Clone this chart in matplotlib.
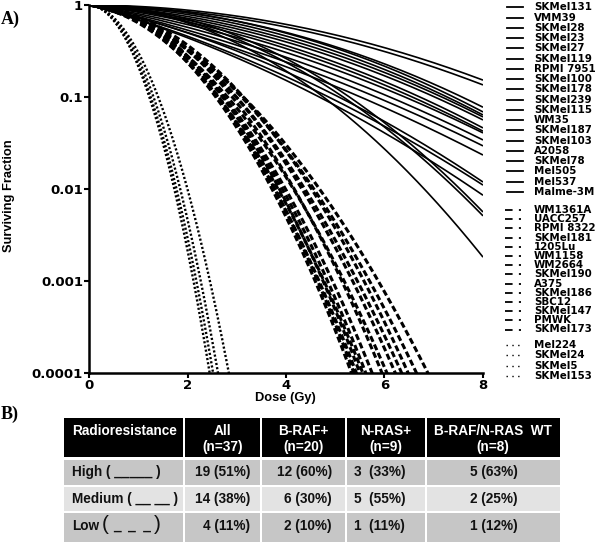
import numpy as np
import matplotlib
matplotlib.use("Agg")
import matplotlib.pyplot as plt
from matplotlib.patches import Rectangle

# ---------------- data ----------------
# Linear-quadratic parameters (alpha [Gy^-1], beta [Gy^-2])
high_lines = ["SKMel131", "VMM39", "SKMel28", "SKMel23", "SKMel27", "SKMel119",
              "RPMI 7951", "SKMel100", "SKMel178", "SKMel239", "SKMel115", "WM35",
              "SKMel187", "SKMel103", "A2058", "SKMel78", "Mel505", "Mel537", "Malme-3M"]
high_alpha = [0.007, 0.026, 0.023, 0.017, 0.044, 0.075, 0.102, 0.123, 0.150, 0.193,
              0.231, 0.272, 0.303, 0.281, 0.333, 0.348, 0.022, 0.058, 0.036]
high_beta = [0.0285, 0.0280, 0.0371, 0.0397, 0.0375, 0.0344, 0.0322, 0.0327, 0.0306,
             0.0259, 0.0239, 0.0211, 0.0208, 0.0341, 0.0288, 0.0309, 0.0782, 0.0752, 0.0941]

medium_lines = ["WM1361A", "UACC257", "RPMI 8322", "SKMel181", "1205Lu", "WM1158",
                "WM2664", "SKMel190", "A375", "SKMel186", "SBC12", "SKMel147",
                "PMWK", "SKMel173"]
medium_alpha = [0.115, 0.069, 0.138, 0.046, 0.184, 0.092, 0.138, 0.069, 0.207, 0.115,
                0.161, 0.092, 0.184, 0.230]
medium_beta = [0.3026, 0.3054, 0.2870, 0.2961, 0.2648, 0.2752, 0.2546, 0.2486, 0.2174,
               0.2196, 0.2031, 0.2051, 0.1806, 0.1611]

low_lines = ["Mel224", "SKMel24", "SKMel5", "SKMel153"]
low_alpha = [0.0, 0.046, 0.0, 0.069]
low_beta = [1.534, 1.432, 1.342, 1.118]

x_ticks = [0, 2, 4, 6, 8]
y_ticks = [0.0001, 0.001, 0.01, 0.1, 1]
y_tick_labels = ["0.0001", "0.001", "0.01", "0.1", "1"]

table_header = ["Radioresistance", "All\n(n=37)", "B-RAF+\n(n=20)", "N-RAS+\n(n=9)",
                "B-RAF/N-RAS  WT\n(n=8)"]
row_labels = ["High ( _____ )", "Medium ( __ __ )", "Low"]
low_key = "_  _  _"
table_values = [
    ["19 (51%)", "12 (60%)", "3  (33%)", "5 (63%)"],
    ["14 (38%)", "6 (30%)", "5  (55%)", "2 (25%)"],
    ["4 (11%)", "2 (10%)", "1  (11%)", "1 (12%)"],
]

# ---------------- figure ----------------
W, H = 600, 543
fig = plt.figure(figsize=(W / 100, H / 100), dpi=100)

def px_axes(x0, y0, x1, y1):
    return [x0 / W, 1 - y1 / H, (x1 - x0) / W, (y1 - y0) / H]

ax = fig.add_axes(px_axes(89, 5, 483, 373))
dose = np.linspace(0, 8, 500)

for a, b in zip(high_alpha, high_beta):
    ax.plot(dose, np.exp(-a * dose - b * dose ** 2), color="black", lw=1.2,
            solid_capstyle="butt")
for a, b in zip(medium_alpha, medium_beta):
    ax.plot(dose, np.exp(-a * dose - b * dose ** 2), color="black", lw=2.2,
            dashes=(2.0, 1.0))
for a, b in zip(low_alpha, low_beta):
    ax.plot(dose, np.exp(-a * dose - b * dose ** 2), color="black", lw=1.7,
            dashes=(0.9, 0.9))

ax.set_yscale("log")
ax.set_xlim(0, 8)
ax.set_ylim(1e-4, 1)
ax.set_xticks(x_ticks)
ax.set_xticklabels([str(t) for t in x_ticks])
ax.set_yticks(y_ticks)
ax.set_yticklabels(y_tick_labels)
ax.yaxis.set_minor_locator(matplotlib.ticker.NullLocator())
for s in ["top", "right"]:
    ax.spines[s].set_visible(False)
for s in ["left", "bottom"]:
    ax.spines[s].set_linewidth(1.8)
ax.tick_params(direction="out", length=3.5, width=1.5, pad=0.8)
for lab in ax.get_xticklabels() + ax.get_yticklabels():
    lab.set_fontfamily("DejaVu Sans")
    lab.set_fontweight("bold")
    lab.set_fontsize(9.5)
ax.patch.set_alpha(0)

# ---------------- overlay for labels, legend, table ----------------
ov = fig.add_axes([0, 0, 1, 1])
ov.set_xlim(0, W)
ov.set_ylim(H, 0)
ov.axis("off")
ov.patch.set_alpha(0)

lab_font = dict(family="Liberation Sans", weight="bold", fontsize=9.3)
ov.text(285, 398.5, "Dose (Gy)", ha="center", va="center", **lab_font)
ov.text(9, 196, "Surviving Fraction", ha="center", va="center", rotation=90, **lab_font)
ov.text(1, 19, "A)", ha="left", va="center", family="Liberation Serif",
        weight="bold", fontsize=13)
ov.text(1, 414, "B)", ha="left", va="center", family="Liberation Serif",
        weight="bold", fontsize=13)

# legend
leg_font = dict(family="DejaVu Sans", weight="bold", fontsize=7.4)
for name, y in zip(high_lines, np.linspace(7.3, 192, len(high_lines))):
    ov.plot([507, 523], [y, y], color="black", lw=1.3)
    ov.text(534, y, name, ha="left", va="center", **leg_font)
for name, y in zip(medium_lines, np.linspace(210, 329.5, len(medium_lines))):
    ov.plot([505, 521], [y, y], color="black", lw=1.3, dashes=(4.2, 3.5))
    ov.text(534, y, name, ha="left", va="center", **leg_font)
for name, y in zip(low_lines, np.linspace(345, 376, len(low_lines))):
    ov.plot([506, 521], [y, y], color="black", lw=1.0, dashes=(1.0, 3.2))
    ov.text(534, y, name, ha="left", va="center", **leg_font)

# table
col_edges = [64, 184, 261, 346, 426, 560]
row_edges = [(418, 457), (460, 484.5), (486.5, 511), (513, 542)]
row_colors = ["black", "#c6c6c6", "#e3e3e3", "#c6c6c6"]
gap = 1.0
for r, ((y0, y1), col) in enumerate(zip(row_edges, row_colors)):
    for c in range(len(col_edges) - 1):
        x0 = col_edges[c] + (gap if c > 0 else 0)
        x1 = col_edges[c + 1] - (gap if c < len(col_edges) - 2 else 0)
        ov.add_patch(Rectangle((x0, y0), x1 - x0, y1 - y0, facecolor=col,
                               edgecolor="none"))

tab_font = dict(family="Liberation Sans", weight="bold", fontsize=9.8)
ov.text(72, 431, table_header[0], ha="left", va="center", color="white", **tab_font)
for c in range(1, 5):
    cx = (col_edges[c] + col_edges[c + 1]) / 2
    ov.text(cx, 439, table_header[c], ha="center", va="center", color="white",
            linespacing=1.15, **tab_font)

row_y = [472, 498.5, 526]
for r in range(3):
    ov.text(72, row_y[r], row_labels[r], ha="left", va="center", color="#111111",
            **tab_font)
# large parentheses around the low-row key
big = dict(family="Liberation Sans", fontsize=15, color="#111111")
ov.text(102, row_y[2] - 1, "(", ha="left", va="center", **big)
ov.text(113, row_y[2], low_key, ha="left", va="center", color="#111111", **tab_font)
ov.text(154, row_y[2] - 1, ")", ha="left", va="center", **big)

# value anchors: (x, ha)
anchors = [(250, "right"), (332, "right"), (354, "left"), (494, "center")]
for r, row in enumerate(table_values):
    for c, txt in enumerate(row):
        x, ha = anchors[c]
        ov.text(x, row_y[r], txt, ha=ha, va="center", color="#111111", **tab_font)

fig.savefig("out.png", dpi=100)
